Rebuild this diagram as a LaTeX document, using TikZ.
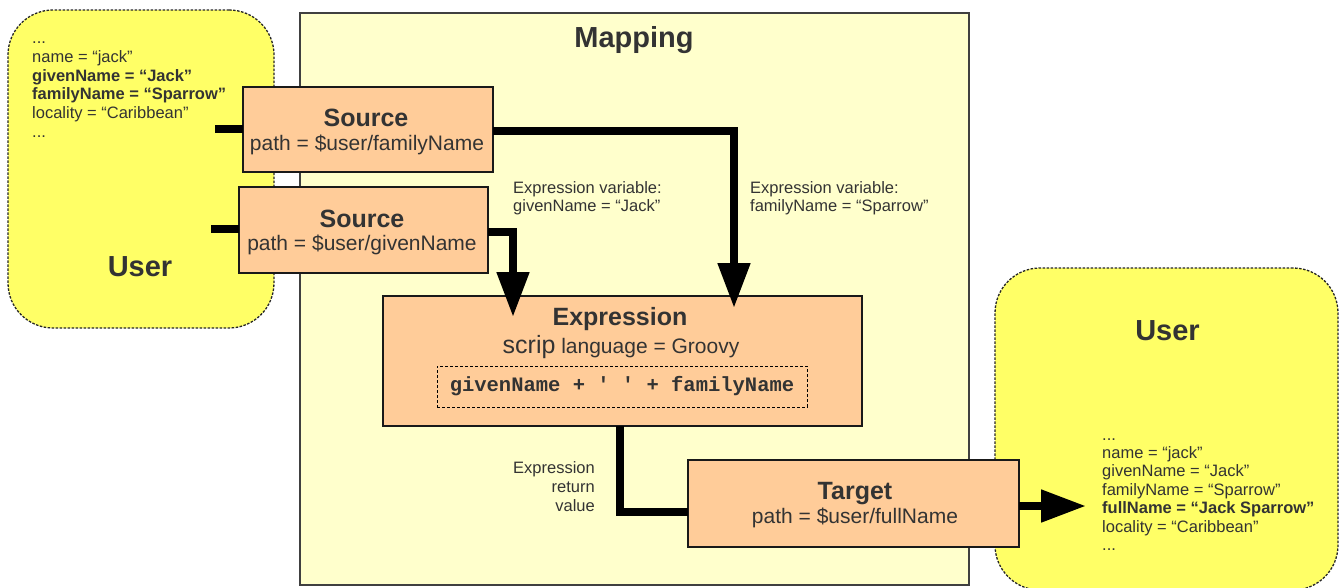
\documentclass[tikz,border=0pt]{standalone}
\usepackage{fontspec}
\setmainfont{Liberation Sans}
\newfontfamily\codefont{Liberation Mono}
\usetikzlibrary{arrows.meta}
\definecolor{usrfill}{RGB}{255,255,102}
\definecolor{mapfill}{RGB}{255,255,204}
\definecolor{boxfill}{RGB}{255,204,153}
\definecolor{txt}{RGB}{51,51,51}
\begin{document}
\begin{tikzpicture}[x=1pt,y=-1pt,
 usr/.style={draw=black!85, fill=usrfill, line width=1.3pt, dash pattern=on 2.5pt off 1.5pt, rounded corners=45pt, inner sep=0pt, outer sep=0pt},
 mapbox/.style={draw=black!75, fill=mapfill, line width=1.3pt, inner sep=0pt, outer sep=0pt},
 box/.style={draw=black!90, fill=boxfill, line width=1.3pt, inner sep=0pt, outer sep=0pt},
 codebox/.style={draw=black, dash pattern=on 3pt off 2pt, line width=1pt, inner sep=0pt, outer sep=0pt, font=\codefont\bfseries\fontsize{20.5}{24}\selectfont, text=txt},
 ttl/.style={font=\bfseries\fontsize{25}{30}\selectfont, text=txt, inner sep=0pt, anchor=base},
 big/.style={font=\bfseries\fontsize{29}{34}\selectfont, text=txt, inner sep=0pt, anchor=base},
 pth/.style={font=\fontsize{21}{25}\selectfont, text=txt, inner sep=0pt, anchor=base},
 small/.style={font=\fontsize{16.5}{19}\selectfont, text=txt, inner sep=0pt, anchor=base west},
 smallr/.style={small, anchor=base east},
 conn/.style={line width=8pt, draw=black},
 arr/.style={conn, -{Triangle[width=31pt,length=45pt]}},
]
\useasboundingbox (0,0) rectangle (1341,587);
\clip (0,0) rectangle (1341,587);
\fill[white] (0,0) rectangle (1341,587);

% users
\node[usr, minimum width=266pt, minimum height=318pt] (uL) at (141,169) {};
\node[usr, minimum width=343pt, minimum height=322pt] (uR) at (1166.5,429) {};
% mapping
\node[mapbox, minimum width=669pt, minimum height=572pt] (map) at (634.5,299) {};
\node[big] (mapt) at (634,47) {Mapping};

% user texts
\node[big] (uLt) at (140,276) {User};
\node[big] (uRt) at (1167.5,340) {User};
\node[small] (l1) at (32,43.6) {...};
\node[small] (l2) at (32,62.3) {name = “jack”};
\node[small] (l3) at (32,81) {\textbf{givenName = “Jack”}};
\node[small] (l4) at (32,99.7) {\textbf{familyName = “Sparrow”}};
\node[small] (l5) at (32,118.4) {locality = “Caribbean”};
\node[small] (l6) at (32,137.1) {...};
\node[small] (r1) at (1102,440) {...};
\node[small] (r2) at (1102,458.4) {name = “jack”};
\node[small] (r3) at (1102,476.8) {givenName = “Jack”};
\node[small] (r4) at (1102,495.2) {familyName = “Sparrow”};
\node[small] (r5) at (1102,513.6) {\textbf{fullName = “Jack Sparrow”}};
\node[small] (r6) at (1102,532) {locality = “Caribbean”};
\node[small] (r7) at (1102,550.4) {...};

% stubs from user
\coordinate (u1) at (215,128.5);
\coordinate (u2) at (211,229);

% boxes
\node[box, minimum width=250pt, minimum height=85pt] (s1) at (368,129.5) {};
\node[box, minimum width=249pt, minimum height=86pt] (s2) at (363.5,230) {};
\node[box, minimum width=479pt, minimum height=130pt] (expr) at (622.5,361) {};
\node[box, minimum width=331pt, minimum height=87pt] (tgt) at (853.5,503.5) {};

\draw[conn] (u1) -- (u1 -| s1.west);
\draw[conn] (u2) -- (u2 -| s2.west);

\node[ttl] (s1t) at (366,126) {Source};
\node[pth] (s1p) at (367,150.5) {path = \$user/familyName};
\node[ttl] (s2t) at (362,227) {Source};
\node[pth] (s2p) at (362,250) {path = \$user/givenName};
\node[ttl] (et) at (620,325) {Expression};
\node[pth] (el) at (621,353) {{\fontsize{25}{30}\selectfont scrip} language = Groovy};
\node[codebox, minimum width=370pt, minimum height=41pt] (code) at (622,386.5) {givenName + \textquotesingle{} \textquotesingle{} + familyName};
\node[ttl] (tt) at (855,499) {Target};
\node[pth] (tp) at (855,523) {path = \$user/fullName};

% connectors
\draw[arr] ([yshift=-1.5pt]s1.east) -| ([xshift=111.5pt,yshift=-12pt]expr.north);
\draw[arr] ([yshift=-2pt]s2.east) -| ([xshift=-109.5pt,yshift=-21pt]expr.north);
\draw[conn] ([xshift=-2.5pt]expr.south) |- ([yshift=-8.5pt]tgt.west);
\coordinate (ut) at (1086,506);
\draw[arr] (tgt.east |- ut) -- (ut);

% labels
\node[small] (v1a) at (513,193) {Expression variable:};
\node[small] (v1b) at (513,211) {givenName = “Jack”};
\node[small] (v2a) at (750,193) {Expression variable:};
\node[small] (v2b) at (750,211) {familyName = “Sparrow”};
\node[smallr] (ra) at (595,473) {Expression};
\node[smallr] (rb) at (595,492) {return};
\node[smallr] (rc) at (595,511) {value};
\end{tikzpicture}
\end{document}
